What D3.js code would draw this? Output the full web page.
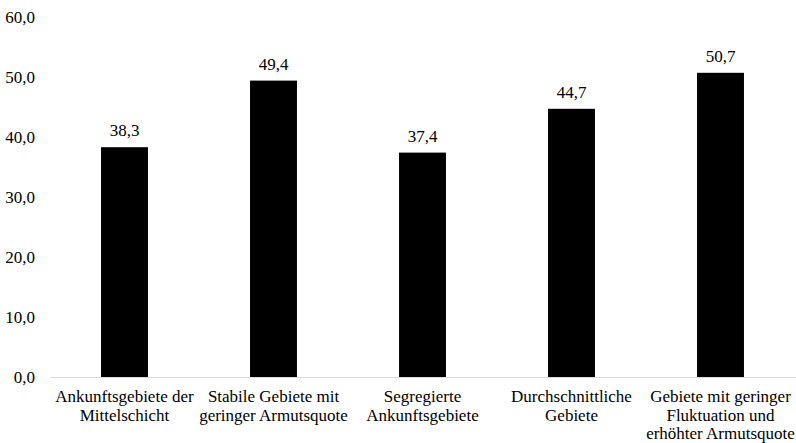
<!DOCTYPE html>
<html>
<head>
<meta charset="utf-8">
<script src="https://cdn.jsdelivr.net/npm/d3@7"></script>
<style>
  body { margin: 0; background: #fff; }
  text { font-family: 'Liberation Serif', serif; }
</style>
</head>
<body>
<div id="chart"></div>
<script>
// data
const categories = [
  ["Ankunftsgebiete der", "Mittelschicht"],
  ["Stabile Gebiete mit", "geringer Armutsquote"],
  ["Segregierte", "Ankunftsgebiete"],
  ["Durchschnittliche", "Gebiete"],
  ["Gebiete mit geringer", "Fluktuation und", "erhöhter Armutsquote"]
];
const values = [38.3, 49.4, 37.4, 44.7, 50.7];
const yTicks = [0, 10, 20, 30, 40, 50, 60];

const width = 796, height = 443;
const margin = {top: 17, right: 1, bottom: 66, left: 50};
const font = "'Liberation Serif'";
const fs = "17px";

const svg = d3.select("#chart").append("svg")
  .attr("width", width)
  .attr("height", height);

const fmt = v => v.toFixed(1).replace(".", ",");

const x = d3.scaleBand()
  .domain(d3.range(categories.length))
  .range([margin.left, width - margin.right])
  .paddingInner(0.685)
  .paddingOuter(0.3425);

const y = d3.scaleLinear()
  .domain([0, 60])
  .range([height - margin.bottom, margin.top]);

// y tick labels (no axis line)
svg.append("g")
  .selectAll("text")
  .data(yTicks)
  .join("text")
  .attr("x", 35)
  .attr("y", d => y(d))
  .attr("dy", "0.35em")
  .attr("text-anchor", "end")
  .style("font-family", font)
  .style("font-size", fs)
  .attr("fill", "#000")
  .text(fmt);

// bars
svg.append("g")
  .selectAll("rect")
  .data(values)
  .join("rect")
  .attr("x", (d, i) => x(i))
  .attr("y", d => y(d))
  .attr("width", x.bandwidth())
  .attr("height", d => y(0) - y(d))
  .attr("fill", "#000");

// value labels
svg.append("g")
  .selectAll("text")
  .data(values)
  .join("text")
  .attr("x", (d, i) => x(i) + x.bandwidth() / 2)
  .attr("y", d => y(d) - 11)
  .attr("text-anchor", "middle")
  .style("font-family", font)
  .style("font-size", fs)
  .attr("fill", "#000")
  .text(fmt);

// baseline
svg.append("line")
  .attr("x1", margin.left)
  .attr("x2", width)
  .attr("y1", y(0) + 0.5)
  .attr("y2", y(0) + 0.5)
  .attr("stroke", "#d9d9d9")
  .attr("stroke-width", 1);

// category labels
const cat = svg.append("g")
  .selectAll("text")
  .data(categories)
  .join("text")
  .attr("x", (d, i) => x(i) + x.bandwidth() / 2)
  .attr("y", y(0) + 25)
  .attr("text-anchor", "middle")
  .style("font-family", font)
  .style("font-size", fs)
  .attr("fill", "#000");

cat.selectAll("tspan")
  .data(d => d)
  .join("tspan")
  .attr("x", function () { return this.parentNode.getAttribute("x"); })
  .attr("dy", (d, i) => i === 0 ? 0 : 18.5)
  .text(d => d);
</script>
</body>
</html>
